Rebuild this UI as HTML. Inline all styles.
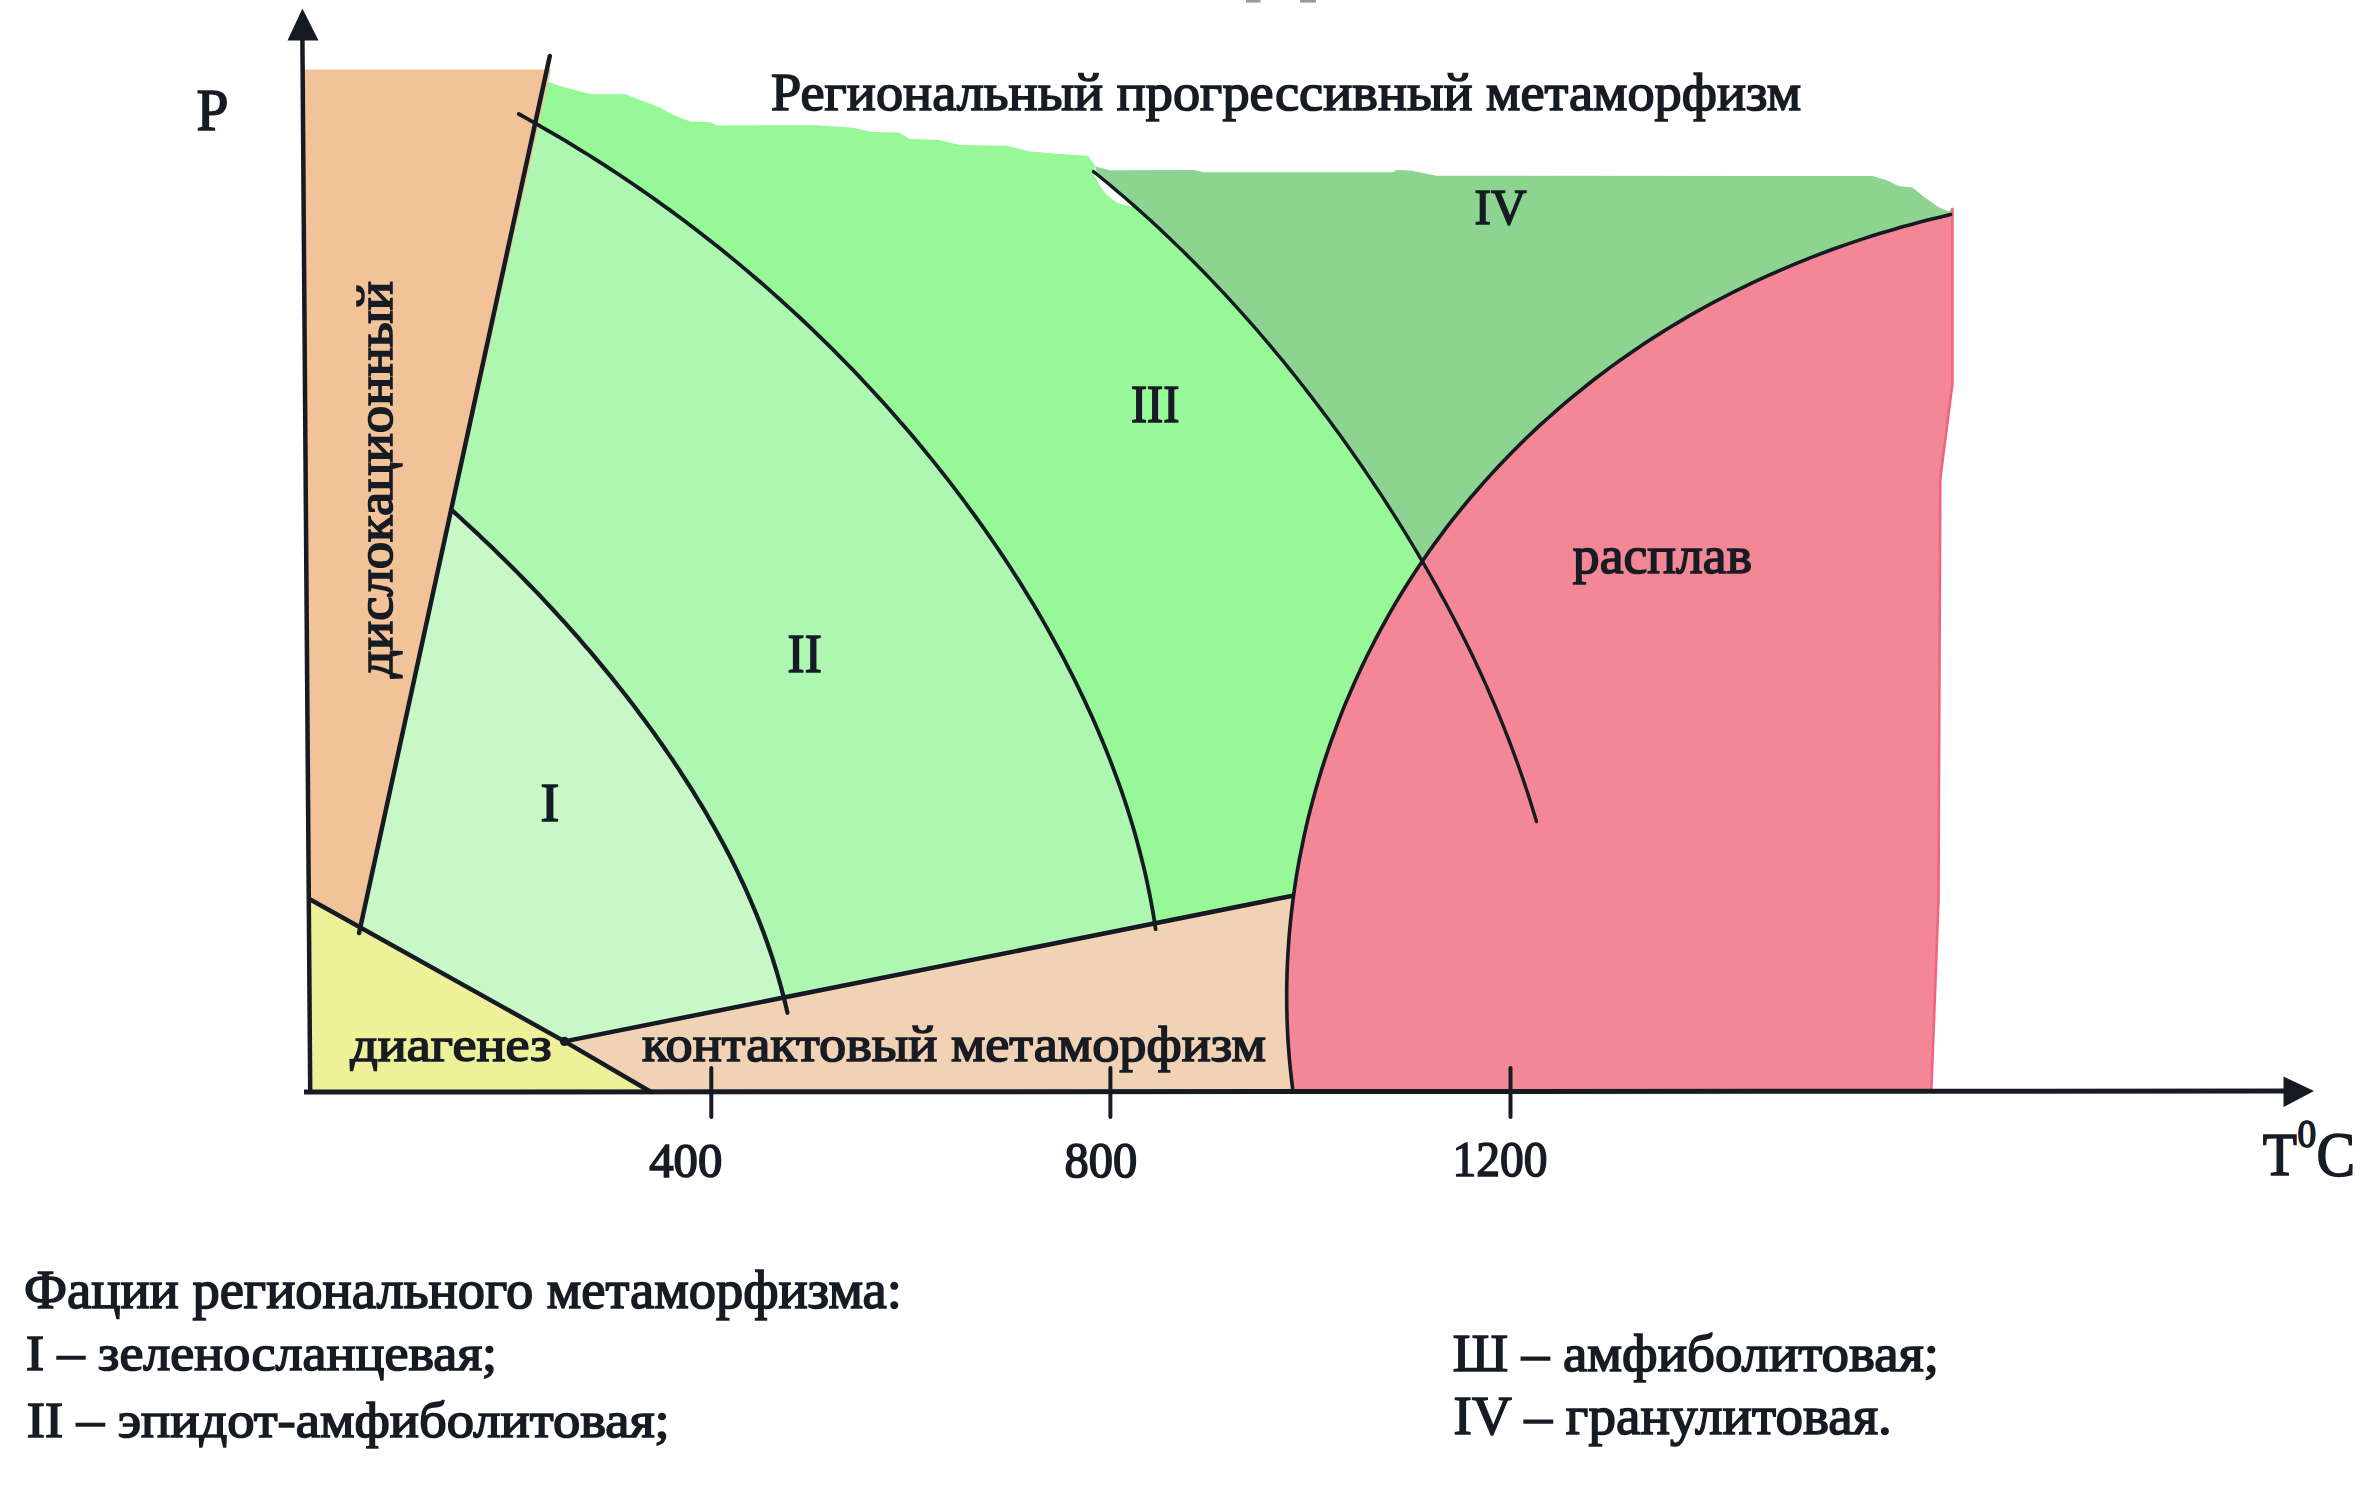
<!DOCTYPE html>
<html><head><meta charset="utf-8"><style>
html,body{margin:0;padding:0;background:#fff;width:2362px;height:1498px;overflow:hidden}
svg{display:block}
text{font-family:"Liberation Serif",serif;fill:#161b24;stroke:#161b24;stroke-width:1.6px}
</style></head><body>
<svg width="2362" height="1498" viewBox="0 0 2362 1498">
<path d="M1095.7,166.4 L1109.4,170.2 L1193.4,170.0 L1203.8,172.2 L1393.0,172.2 L1396.5,170.0 L1410.4,170.5 L1436.4,175.7 L1872.4,176.0 L1886.3,180.0 L1898.5,186.0 L1912.4,187.4 L1924.5,197.3 L1938.4,206.9 L1948.8,211.5 L1952.4,207.8 L1952.4,384.0 L1940.3,478.6 L1938.5,900.0 L1931.3,1092.0 L1094.0,1092.0 Z" fill="#8cd48f"/>
<path d="M542.9,79.7 L558.1,85.4 L591.1,94.3 L625.4,94.3 L659.7,107.6 L672.4,114.6 L690.2,121.6 L710.5,122.2 L716.9,125.4 L815.2,125.2 L851.8,127.5 L873.2,132.1 L899.1,132.6 L909.7,139.0 L937.2,139.7 L960.0,145.1 L1007.3,145.8 L1028.6,151.2 L1053.0,153.4 L1088.0,155.7 L1095.7,166.4 L1093.5,171.6 L1098.7,175.8 L1103.9,180.0 L1109.1,184.3 L1114.2,188.6 L1119.3,193.0 L1124.4,197.3 L1129.5,201.7 L1134.5,206.1 L1139.5,210.6 L1144.5,215.1 L1149.5,219.5 L1154.4,224.1 L1159.3,228.6 L1164.2,233.2 L1169.0,237.8 L1173.9,242.4 L1178.7,247.1 L1183.5,251.8 L1188.2,256.5 L1193.0,261.2 L1197.7,266.0 L1202.4,270.7 L1207.0,275.5 L1211.7,280.4 L1216.3,285.2 L1220.9,290.1 L1225.5,295.0 L1230.0,299.9 L1234.5,304.9 L1239.0,309.8 L1243.5,314.8 L1247.9,319.8 L1252.4,324.8 L1256.8,329.9 L1261.1,335.0 L1265.5,340.1 L1269.8,345.2 L1274.1,350.3 L1278.4,355.5 L1282.7,360.7 L1286.9,365.8 L1291.1,371.1 L1295.3,376.3 L1299.5,381.6 L1303.6,386.8 L1307.7,392.1 L1311.8,397.4 L1315.9,402.8 L1320.0,408.1 L1324.0,413.5 L1328.0,418.8 L1332.0,424.2 L1336.0,429.7 L1339.9,435.1 L1343.8,440.5 L1347.7,446.0 L1351.6,451.5 L1355.4,457.0 L1359.3,462.5 L1363.1,468.0 L1366.9,473.6 L1370.6,479.1 L1374.3,484.7 L1378.1,490.3 L1381.8,495.9 L1385.4,501.5 L1389.1,507.2 L1392.7,512.8 L1396.3,518.5 L1399.8,524.2 L1403.4,529.9 L1406.9,535.6 L1410.4,541.3 L1413.8,547.0 L1417.3,552.8 L1420.7,558.6 L1424.1,564.4 L1427.4,570.2 L1430.7,576.0 L1434.0,581.8 L1437.3,587.7 L1440.5,593.6 L1443.7,599.4 L1446.9,605.3 L1450.0,611.2 L1453.2,617.2 L1456.2,623.1 L1459.3,629.1 L1462.3,635.1 L1465.3,641.1 L1468.3,647.1 L1471.2,653.1 L1474.1,659.1 L1476.9,665.2 L1479.8,671.2 L1482.5,677.3 L1485.3,683.4 L1488.0,689.5 L1490.7,695.7 L1493.3,701.8 L1496.0,708.0 L1498.5,714.2 L1501.1,720.4 L1503.6,726.6 L1506.0,732.8 L1508.5,739.0 L1510.9,745.3 L1513.2,751.6 L1515.5,757.9 L1517.8,764.2 L1520.0,770.5 L1522.2,776.8 L1524.4,783.2 L1526.5,789.5 L1528.6,795.9 L1530.6,802.3 L1532.6,808.7 L1534.6,815.2 L1536.5,821.6 L1537.0,1092.0 L310.0,1092.0 L305.0,79.7 Z" fill="#96f896"/>
<path d="M518.8,114.0 L518.8,114.0 L526.7,118.4 L534.5,122.8 L542.3,127.3 L550.1,131.8 L557.9,136.3 L565.6,140.9 L573.3,145.6 L580.9,150.3 L588.6,155.0 L596.2,159.8 L603.7,164.7 L611.3,169.6 L618.8,174.5 L626.2,179.5 L633.6,184.5 L641.0,189.6 L648.4,194.8 L655.7,199.9 L663.0,205.2 L670.3,210.4 L677.5,215.7 L684.7,221.1 L691.8,226.5 L699.0,232.0 L706.0,237.5 L713.1,243.0 L720.1,248.6 L727.1,254.2 L734.0,259.9 L740.9,265.6 L747.8,271.4 L754.6,277.2 L761.4,283.0 L768.1,288.9 L774.8,294.9 L781.5,300.8 L788.1,306.9 L794.7,312.9 L801.3,319.0 L807.8,325.2 L814.3,331.4 L820.7,337.6 L827.1,343.9 L833.5,350.2 L839.8,356.6 L846.1,363.0 L852.4,369.4 L858.6,375.9 L864.7,382.5 L870.8,389.0 L876.9,395.6 L883.0,402.3 L889.0,409.0 L894.9,415.7 L900.8,422.5 L906.7,429.3 L912.5,436.1 L918.3,443.0 L924.1,450.0 L929.7,456.9 L935.4,463.9 L941.0,471.0 L946.6,478.1 L952.1,485.2 L957.5,492.3 L963.0,499.5 L968.3,506.8 L973.6,514.0 L978.9,521.4 L984.1,528.7 L989.3,536.1 L994.4,543.5 L999.4,550.9 L1004.4,558.4 L1009.4,566.0 L1014.2,573.5 L1019.1,581.1 L1023.8,588.7 L1028.5,596.4 L1033.2,604.1 L1037.7,611.8 L1042.3,619.6 L1046.7,627.4 L1051.1,635.2 L1055.4,643.1 L1059.7,651.0 L1063.9,658.9 L1068.0,666.9 L1072.1,674.9 L1076.1,682.9 L1080.0,691.0 L1083.9,699.1 L1087.6,707.2 L1091.4,715.4 L1095.0,723.6 L1098.5,731.8 L1102.0,740.0 L1105.4,748.3 L1108.7,756.6 L1112.0,765.0 L1115.1,773.3 L1118.2,781.8 L1121.2,790.2 L1124.1,798.6 L1126.9,807.1 L1129.6,815.7 L1132.2,824.2 L1134.7,832.8 L1137.1,841.4 L1139.4,850.1 L1141.6,858.7 L1143.8,867.4 L1145.8,876.2 L1147.7,884.9 L1149.5,893.7 L1151.2,902.5 L1152.8,911.4 L1154.3,920.3 L1155.6,929.2 L1155.5,1092.0 L310.0,1092.0 L305.0,114.0 Z" fill="#aef7b0"/>
<path d="M451.6,509.9 L451.6,509.9 L455.4,513.4 L459.2,516.8 L462.9,520.2 L466.7,523.7 L470.5,527.2 L474.2,530.6 L478.0,534.1 L481.7,537.7 L485.4,541.2 L489.2,544.7 L492.9,548.3 L496.6,551.9 L500.2,555.5 L503.9,559.1 L507.6,562.7 L511.2,566.3 L514.9,569.9 L518.5,573.6 L522.1,577.3 L525.7,581.0 L529.3,584.7 L532.9,588.4 L536.5,592.1 L540.1,595.8 L543.6,599.6 L547.1,603.4 L550.7,607.2 L554.2,611.0 L557.7,614.8 L561.1,618.6 L564.6,622.4 L568.1,626.3 L571.5,630.2 L574.9,634.0 L578.4,637.9 L581.7,641.8 L585.1,645.8 L588.5,649.7 L591.9,653.6 L595.2,657.6 L598.5,661.6 L601.8,665.6 L605.1,669.6 L608.4,673.6 L611.7,677.6 L614.9,681.6 L618.1,685.7 L621.3,689.8 L624.5,693.8 L627.7,697.9 L630.9,702.0 L634.0,706.1 L637.1,710.3 L640.2,714.4 L643.3,718.6 L646.4,722.7 L649.4,726.9 L652.5,731.1 L655.5,735.3 L658.5,739.6 L661.5,743.8 L664.4,748.0 L667.3,752.3 L670.3,756.6 L673.2,760.8 L676.0,765.1 L678.9,769.4 L681.7,773.8 L684.5,778.1 L687.3,782.5 L690.1,786.8 L692.8,791.2 L695.5,795.6 L698.2,800.0 L700.9,804.4 L703.6,808.8 L706.2,813.3 L708.8,817.7 L711.3,822.2 L713.9,826.7 L716.4,831.2 L718.9,835.7 L721.3,840.2 L723.8,844.7 L726.2,849.3 L728.5,853.8 L730.9,858.4 L733.2,863.0 L735.5,867.6 L737.7,872.2 L739.9,876.9 L742.1,881.5 L744.3,886.2 L746.4,890.9 L748.5,895.6 L750.5,900.3 L752.5,905.0 L754.5,909.7 L756.5,914.5 L758.4,919.3 L760.3,924.0 L762.1,928.8 L763.9,933.6 L765.7,938.5 L767.4,943.3 L769.1,948.2 L770.8,953.1 L772.4,957.9 L773.9,962.9 L775.5,967.8 L777.0,972.7 L778.4,977.7 L779.8,982.6 L781.2,987.6 L782.5,992.6 L783.8,997.6 L785.1,1002.7 L786.3,1007.7 L787.4,1012.8 L787.4,1092.0 L310.0,1092.0 L305.0,510.0 Z" fill="#c8f7c8"/>
<path d="M564.5,1041.4 L1291.5,896.0 L1300.0,896.0 L1300.0,1092.0 L651.0,1092.0 Z" fill="#f2d2b4"/>
<path d="M1292.7,1089.2 L1292.7,1089.2 L1291.5,1079.2 L1290.4,1069.1 L1289.4,1059.0 L1288.6,1048.9 L1287.9,1038.8 L1287.4,1028.7 L1287.0,1018.6 L1286.8,1008.5 L1286.7,998.4 L1286.7,988.3 L1286.9,978.2 L1287.2,968.1 L1287.7,958.0 L1288.3,947.9 L1289.0,937.8 L1289.9,927.8 L1290.9,917.7 L1292.0,907.7 L1293.3,897.6 L1294.7,887.6 L1296.2,877.6 L1297.9,867.6 L1299.7,857.7 L1301.7,847.8 L1303.7,837.9 L1305.9,828.0 L1308.2,818.1 L1310.7,808.3 L1313.3,798.5 L1316.0,788.8 L1318.8,779.1 L1321.7,769.4 L1324.8,759.8 L1328.0,750.2 L1331.3,740.6 L1334.8,731.1 L1338.3,721.6 L1342.0,712.2 L1345.8,702.8 L1349.8,693.5 L1353.8,684.2 L1358.0,675.0 L1362.2,665.9 L1366.6,656.8 L1371.2,647.7 L1375.8,638.7 L1380.5,629.8 L1385.4,621.0 L1390.3,612.2 L1395.4,603.4 L1400.6,594.8 L1405.9,586.2 L1411.3,577.7 L1416.9,569.3 L1422.5,560.9 L1428.2,552.6 L1434.1,544.4 L1440.0,536.3 L1446.1,528.2 L1452.2,520.2 L1458.5,512.3 L1464.9,504.5 L1471.3,496.8 L1477.9,489.2 L1484.5,481.6 L1491.3,474.1 L1498.1,466.7 L1505.1,459.4 L1512.1,452.2 L1519.2,445.1 L1526.4,438.0 L1533.7,431.1 L1541.1,424.2 L1548.6,417.5 L1556.1,410.8 L1563.8,404.2 L1571.5,397.7 L1579.3,391.3 L1587.2,385.0 L1595.1,378.8 L1603.1,372.7 L1611.2,366.6 L1619.4,360.7 L1627.7,354.9 L1636.0,349.2 L1644.4,343.5 L1652.9,338.0 L1661.4,332.6 L1670.0,327.3 L1678.7,322.1 L1687.4,316.9 L1696.2,311.9 L1705.0,307.0 L1713.9,302.2 L1722.9,297.5 L1731.9,292.9 L1741.0,288.3 L1750.1,283.9 L1759.2,279.6 L1768.5,275.4 L1777.7,271.3 L1787.0,267.3 L1796.4,263.4 L1805.8,259.6 L1815.2,255.9 L1824.7,252.3 L1834.2,248.8 L1843.7,245.4 L1853.3,242.1 L1862.9,238.9 L1872.5,235.8 L1882.2,232.8 L1891.9,229.9 L1901.6,227.1 L1911.4,224.4 L1921.1,221.8 L1930.9,219.3 L1940.7,216.9 L1950.5,214.6 L1952.4,207.8 L1952.4,384.0 L1940.3,478.6 L1938.5,900.0 L1931.3,1092.0 Z" fill="#f48795"/>
<path d="M302.0,69.5 L551.0,69.5 L359.1,933.0 L308.0,933.0 Z" fill="#f2c399"/>
<path d="M309.3,899.0 L564.5,1041.4 L651.0,1092.0 L310.0,1092.0 Z" fill="#eef09a"/>
<path d="M1093,171 C1098,186 1108,199 1120,204 L1135,207 C1122,196 1108,184 1095,170 Z" fill="#ffffff"/>
<path d="M1952.4,207.8 L1952.4,384.0 L1940.3,478.6 L1938.5,900.0 L1931.3,1092.0" fill="none" stroke="#ee6580" stroke-width="2.6" stroke-linecap="butt" stroke-linejoin="round"/>
<path d="M549.8,56.0 L359.1,933.0" fill="none" stroke="#161a22" stroke-width="4.5" stroke-linecap="round" stroke-linejoin="round"/>
<path d="M309.3,899.0 L564.5,1041.4 L651.0,1092.0" fill="none" stroke="#161a22" stroke-width="4.5" stroke-linecap="round" stroke-linejoin="round"/>
<path d="M564.5,1041.4 L1291.5,896.0" fill="none" stroke="#161a22" stroke-width="4.5" stroke-linecap="round" stroke-linejoin="round"/>
<path d="M451.6,509.9 L451.6,509.9 L455.4,513.4 L459.2,516.8 L462.9,520.2 L466.7,523.7 L470.5,527.2 L474.2,530.6 L478.0,534.1 L481.7,537.7 L485.4,541.2 L489.2,544.7 L492.9,548.3 L496.6,551.9 L500.2,555.5 L503.9,559.1 L507.6,562.7 L511.2,566.3 L514.9,569.9 L518.5,573.6 L522.1,577.3 L525.7,581.0 L529.3,584.7 L532.9,588.4 L536.5,592.1 L540.1,595.8 L543.6,599.6 L547.1,603.4 L550.7,607.2 L554.2,611.0 L557.7,614.8 L561.1,618.6 L564.6,622.4 L568.1,626.3 L571.5,630.2 L574.9,634.0 L578.4,637.9 L581.7,641.8 L585.1,645.8 L588.5,649.7 L591.9,653.6 L595.2,657.6 L598.5,661.6 L601.8,665.6 L605.1,669.6 L608.4,673.6 L611.7,677.6 L614.9,681.6 L618.1,685.7 L621.3,689.8 L624.5,693.8 L627.7,697.9 L630.9,702.0 L634.0,706.1 L637.1,710.3 L640.2,714.4 L643.3,718.6 L646.4,722.7 L649.4,726.9 L652.5,731.1 L655.5,735.3 L658.5,739.6 L661.5,743.8 L664.4,748.0 L667.3,752.3 L670.3,756.6 L673.2,760.8 L676.0,765.1 L678.9,769.4 L681.7,773.8 L684.5,778.1 L687.3,782.5 L690.1,786.8 L692.8,791.2 L695.5,795.6 L698.2,800.0 L700.9,804.4 L703.6,808.8 L706.2,813.3 L708.8,817.7 L711.3,822.2 L713.9,826.7 L716.4,831.2 L718.9,835.7 L721.3,840.2 L723.8,844.7 L726.2,849.3 L728.5,853.8 L730.9,858.4 L733.2,863.0 L735.5,867.6 L737.7,872.2 L739.9,876.9 L742.1,881.5 L744.3,886.2 L746.4,890.9 L748.5,895.6 L750.5,900.3 L752.5,905.0 L754.5,909.7 L756.5,914.5 L758.4,919.3 L760.3,924.0 L762.1,928.8 L763.9,933.6 L765.7,938.5 L767.4,943.3 L769.1,948.2 L770.8,953.1 L772.4,957.9 L773.9,962.9 L775.5,967.8 L777.0,972.7 L778.4,977.7 L779.8,982.6 L781.2,987.6 L782.5,992.6 L783.8,997.6 L785.1,1002.7 L786.3,1007.7 L787.4,1012.8" fill="none" stroke="#161a22" stroke-width="4.2" stroke-linecap="round" stroke-linejoin="round"/>
<path d="M518.8,114.0 L518.8,114.0 L526.7,118.4 L534.5,122.8 L542.3,127.3 L550.1,131.8 L557.9,136.3 L565.6,140.9 L573.3,145.6 L580.9,150.3 L588.6,155.0 L596.2,159.8 L603.7,164.7 L611.3,169.6 L618.8,174.5 L626.2,179.5 L633.6,184.5 L641.0,189.6 L648.4,194.8 L655.7,199.9 L663.0,205.2 L670.3,210.4 L677.5,215.7 L684.7,221.1 L691.8,226.5 L699.0,232.0 L706.0,237.5 L713.1,243.0 L720.1,248.6 L727.1,254.2 L734.0,259.9 L740.9,265.6 L747.8,271.4 L754.6,277.2 L761.4,283.0 L768.1,288.9 L774.8,294.9 L781.5,300.8 L788.1,306.9 L794.7,312.9 L801.3,319.0 L807.8,325.2 L814.3,331.4 L820.7,337.6 L827.1,343.9 L833.5,350.2 L839.8,356.6 L846.1,363.0 L852.4,369.4 L858.6,375.9 L864.7,382.5 L870.8,389.0 L876.9,395.6 L883.0,402.3 L889.0,409.0 L894.9,415.7 L900.8,422.5 L906.7,429.3 L912.5,436.1 L918.3,443.0 L924.1,450.0 L929.7,456.9 L935.4,463.9 L941.0,471.0 L946.6,478.1 L952.1,485.2 L957.5,492.3 L963.0,499.5 L968.3,506.8 L973.6,514.0 L978.9,521.4 L984.1,528.7 L989.3,536.1 L994.4,543.5 L999.4,550.9 L1004.4,558.4 L1009.4,566.0 L1014.2,573.5 L1019.1,581.1 L1023.8,588.7 L1028.5,596.4 L1033.2,604.1 L1037.7,611.8 L1042.3,619.6 L1046.7,627.4 L1051.1,635.2 L1055.4,643.1 L1059.7,651.0 L1063.9,658.9 L1068.0,666.9 L1072.1,674.9 L1076.1,682.9 L1080.0,691.0 L1083.9,699.1 L1087.6,707.2 L1091.4,715.4 L1095.0,723.6 L1098.5,731.8 L1102.0,740.0 L1105.4,748.3 L1108.7,756.6 L1112.0,765.0 L1115.1,773.3 L1118.2,781.8 L1121.2,790.2 L1124.1,798.6 L1126.9,807.1 L1129.6,815.7 L1132.2,824.2 L1134.7,832.8 L1137.1,841.4 L1139.4,850.1 L1141.6,858.7 L1143.8,867.4 L1145.8,876.2 L1147.7,884.9 L1149.5,893.7 L1151.2,902.5 L1152.8,911.4 L1154.3,920.3 L1155.6,929.2" fill="none" stroke="#161a22" stroke-width="3.8" stroke-linecap="round" stroke-linejoin="round"/>
<path d="M1093.5,171.6 L1093.5,171.6 L1098.7,175.8 L1103.9,180.0 L1109.1,184.3 L1114.2,188.6 L1119.3,193.0 L1124.4,197.3 L1129.5,201.7 L1134.5,206.1 L1139.5,210.6 L1144.5,215.1 L1149.5,219.5 L1154.4,224.1 L1159.3,228.6 L1164.2,233.2 L1169.0,237.8 L1173.9,242.4 L1178.7,247.1 L1183.5,251.8 L1188.2,256.5 L1193.0,261.2 L1197.7,266.0 L1202.4,270.7 L1207.0,275.5 L1211.7,280.4 L1216.3,285.2 L1220.9,290.1 L1225.5,295.0 L1230.0,299.9 L1234.5,304.9 L1239.0,309.8 L1243.5,314.8 L1247.9,319.8 L1252.4,324.8 L1256.8,329.9 L1261.1,335.0 L1265.5,340.1 L1269.8,345.2 L1274.1,350.3 L1278.4,355.5 L1282.7,360.7 L1286.9,365.8 L1291.1,371.1 L1295.3,376.3 L1299.5,381.6 L1303.6,386.8 L1307.7,392.1 L1311.8,397.4 L1315.9,402.8 L1320.0,408.1 L1324.0,413.5 L1328.0,418.8 L1332.0,424.2 L1336.0,429.7 L1339.9,435.1 L1343.8,440.5 L1347.7,446.0 L1351.6,451.5 L1355.4,457.0 L1359.3,462.5 L1363.1,468.0 L1366.9,473.6 L1370.6,479.1 L1374.3,484.7 L1378.1,490.3 L1381.8,495.9 L1385.4,501.5 L1389.1,507.2 L1392.7,512.8 L1396.3,518.5 L1399.8,524.2 L1403.4,529.9 L1406.9,535.6 L1410.4,541.3 L1413.8,547.0 L1417.3,552.8 L1420.7,558.6 L1424.1,564.4 L1427.4,570.2 L1430.7,576.0 L1434.0,581.8 L1437.3,587.7 L1440.5,593.6 L1443.7,599.4 L1446.9,605.3 L1450.0,611.2 L1453.2,617.2 L1456.2,623.1 L1459.3,629.1 L1462.3,635.1 L1465.3,641.1 L1468.3,647.1 L1471.2,653.1 L1474.1,659.1 L1476.9,665.2 L1479.8,671.2 L1482.5,677.3 L1485.3,683.4 L1488.0,689.5 L1490.7,695.7 L1493.3,701.8 L1496.0,708.0 L1498.5,714.2 L1501.1,720.4 L1503.6,726.6 L1506.0,732.8 L1508.5,739.0 L1510.9,745.3 L1513.2,751.6 L1515.5,757.9 L1517.8,764.2 L1520.0,770.5 L1522.2,776.8 L1524.4,783.2 L1526.5,789.5 L1528.6,795.9 L1530.6,802.3 L1532.6,808.7 L1534.6,815.2 L1536.5,821.6" fill="none" stroke="#161a22" stroke-width="3.4" stroke-linecap="round" stroke-linejoin="round"/>
<path d="M1950.5,214.6 L1950.5,214.6 L1940.7,216.9 L1930.9,219.3 L1921.1,221.8 L1911.4,224.4 L1901.6,227.1 L1891.9,229.9 L1882.2,232.8 L1872.5,235.8 L1862.9,238.9 L1853.3,242.1 L1843.7,245.4 L1834.2,248.8 L1824.7,252.3 L1815.2,255.9 L1805.8,259.6 L1796.4,263.4 L1787.0,267.3 L1777.7,271.3 L1768.5,275.4 L1759.2,279.6 L1750.1,283.9 L1741.0,288.3 L1731.9,292.9 L1722.9,297.5 L1713.9,302.2 L1705.0,307.0 L1696.2,311.9 L1687.4,316.9 L1678.7,322.1 L1670.0,327.3 L1661.4,332.6 L1652.9,338.0 L1644.4,343.5 L1636.0,349.2 L1627.7,354.9 L1619.4,360.7 L1611.2,366.6 L1603.1,372.7 L1595.1,378.8 L1587.2,385.0 L1579.3,391.3 L1571.5,397.7 L1563.8,404.2 L1556.1,410.8 L1548.6,417.5 L1541.1,424.2 L1533.7,431.1 L1526.4,438.0 L1519.2,445.1 L1512.1,452.2 L1505.1,459.4 L1498.1,466.7 L1491.3,474.1 L1484.5,481.6 L1477.9,489.2 L1471.3,496.8 L1464.9,504.5 L1458.5,512.3 L1452.2,520.2 L1446.1,528.2 L1440.0,536.3 L1434.1,544.4 L1428.2,552.6 L1422.5,560.9 L1416.9,569.3 L1411.3,577.7 L1405.9,586.2 L1400.6,594.8 L1395.4,603.4 L1390.3,612.2 L1385.4,621.0 L1380.5,629.8 L1375.8,638.7 L1371.2,647.7 L1366.6,656.8 L1362.2,665.9 L1358.0,675.0 L1353.8,684.2 L1349.8,693.5 L1345.8,702.8 L1342.0,712.2 L1338.3,721.6 L1334.8,731.1 L1331.3,740.6 L1328.0,750.2 L1324.8,759.8 L1321.7,769.4 L1318.8,779.1 L1316.0,788.8 L1313.3,798.5 L1310.7,808.3 L1308.2,818.1 L1305.9,828.0 L1303.7,837.9 L1301.7,847.8 L1299.7,857.7 L1297.9,867.6 L1296.2,877.6 L1294.7,887.6 L1293.3,897.6 L1292.0,907.7 L1290.9,917.7 L1289.9,927.8 L1289.0,937.8 L1288.3,947.9 L1287.7,958.0 L1287.2,968.1 L1286.9,978.2 L1286.7,988.3 L1286.7,998.4 L1286.8,1008.5 L1287.0,1018.6 L1287.4,1028.7 L1287.9,1038.8 L1288.6,1048.9 L1289.4,1059.0 L1290.4,1069.1 L1291.5,1079.2 L1292.7,1089.2" fill="none" stroke="#161a22" stroke-width="3.6" stroke-linecap="round" stroke-linejoin="round"/>
<circle cx="564.5" cy="1041.4" r="4.6" fill="#161a22"/>
<rect x="1246" y="0" width="14.5" height="2.6" fill="#9a9a9a"/><rect x="1300" y="0" width="16" height="2.6" fill="#9a9a9a"/>
<path d="M302.4,38.0 L310.2,1092.0" fill="none" stroke="#161a22" stroke-width="4.5" stroke-linecap="butt" stroke-linejoin="round"/>
<path d="M304.0,1092.0 L2290.0,1091.0" fill="none" stroke="#161a22" stroke-width="5.0" stroke-linecap="butt" stroke-linejoin="round"/>
<path d="M302.4,8.5 L318.5,40.5 L287.5,40.5 Z" fill="#161a22"/>
<path d="M2314,1091 L2283.5,1076.5 L2283.5,1107 Z" fill="#161a22"/>
<path d="M711.3,1068.0 L711.3,1117.0" fill="none" stroke="#161a22" stroke-width="4.0" stroke-linecap="round" stroke-linejoin="round"/>
<path d="M1110.4,1068.0 L1110.4,1117.0" fill="none" stroke="#161a22" stroke-width="4.0" stroke-linecap="round" stroke-linejoin="round"/>
<path d="M1510.5,1068.0 L1510.5,1117.0" fill="none" stroke="#161a22" stroke-width="4.0" stroke-linecap="round" stroke-linejoin="round"/>
<text x="196.40" y="129.80" font-size="59.78" textLength="31.99" lengthAdjust="spacingAndGlyphs">P</text>
<text x="771.00" y="110.40" font-size="53.00" textLength="1030.01" lengthAdjust="spacingAndGlyphs">Региональный прогрессивный метаморфизм</text>
<text x="1474.60" y="223.70" font-size="51.61" textLength="51.99" lengthAdjust="spacingAndGlyphs">IV</text>
<text x="1131.00" y="422.40" font-size="51.82" textLength="48.35" lengthAdjust="spacingAndGlyphs">III</text>
<text x="787.60" y="672.30" font-size="54.92" textLength="34.11" lengthAdjust="spacingAndGlyphs">II</text>
<text x="540.40" y="820.70" font-size="55.50" textLength="18.78" lengthAdjust="spacingAndGlyphs">I</text>
<text x="1572.80" y="572.50" font-size="53.45" textLength="179.24" lengthAdjust="spacingAndGlyphs">расплав</text>
<text transform="translate(392.20,678.00) rotate(-90)" x="0" y="0" font-size="49.60" textLength="396.80" lengthAdjust="spacingAndGlyphs">дислокационный</text>
<text x="350.20" y="1060.70" font-size="48.96" textLength="201.43" lengthAdjust="spacingAndGlyphs">диагенез</text>
<text x="642.00" y="1061.00" font-size="50.76" textLength="623.80" lengthAdjust="spacingAndGlyphs">контактовый метаморфизм</text>
<text x="649.20" y="1176.90" font-size="49.12" textLength="73.09" lengthAdjust="spacingAndGlyphs">400</text>
<text x="1064.60" y="1177.00" font-size="49.98" textLength="72.71" lengthAdjust="spacingAndGlyphs">800</text>
<text x="1452.60" y="1176.40" font-size="51.41" textLength="94.86" lengthAdjust="spacingAndGlyphs">1200</text>
<text x="2262.80" y="1174.60" font-size="61.88" textLength="34.21" lengthAdjust="spacingAndGlyphs">T</text>
<text x="2297.40" y="1146.60" font-size="39.41" textLength="18.60" lengthAdjust="spacingAndGlyphs">0</text>
<text x="2316.40" y="1176.00" font-size="63.12" textLength="38.62" lengthAdjust="spacingAndGlyphs">C</text>
<text x="24.00" y="1307.60" font-size="54.00" textLength="877.84" lengthAdjust="spacingAndGlyphs">Фации регионального метаморфизма:</text>
<text x="26.00" y="1369.50" font-size="49.82" textLength="471.05" lengthAdjust="spacingAndGlyphs">I – зеленосланцевая;</text>
<text x="26.80" y="1436.80" font-size="51.36" textLength="642.85" lengthAdjust="spacingAndGlyphs">II – эпидот-амфиболитовая;</text>
<text x="1452.80" y="1370.60" font-size="52.41" textLength="486.25" lengthAdjust="spacingAndGlyphs">Ш – амфиболитовая;</text>
<text x="1453.60" y="1434.40" font-size="55.09" textLength="438.26" lengthAdjust="spacingAndGlyphs">IV – гранулитовая.</text>
</svg>
</body></html>
